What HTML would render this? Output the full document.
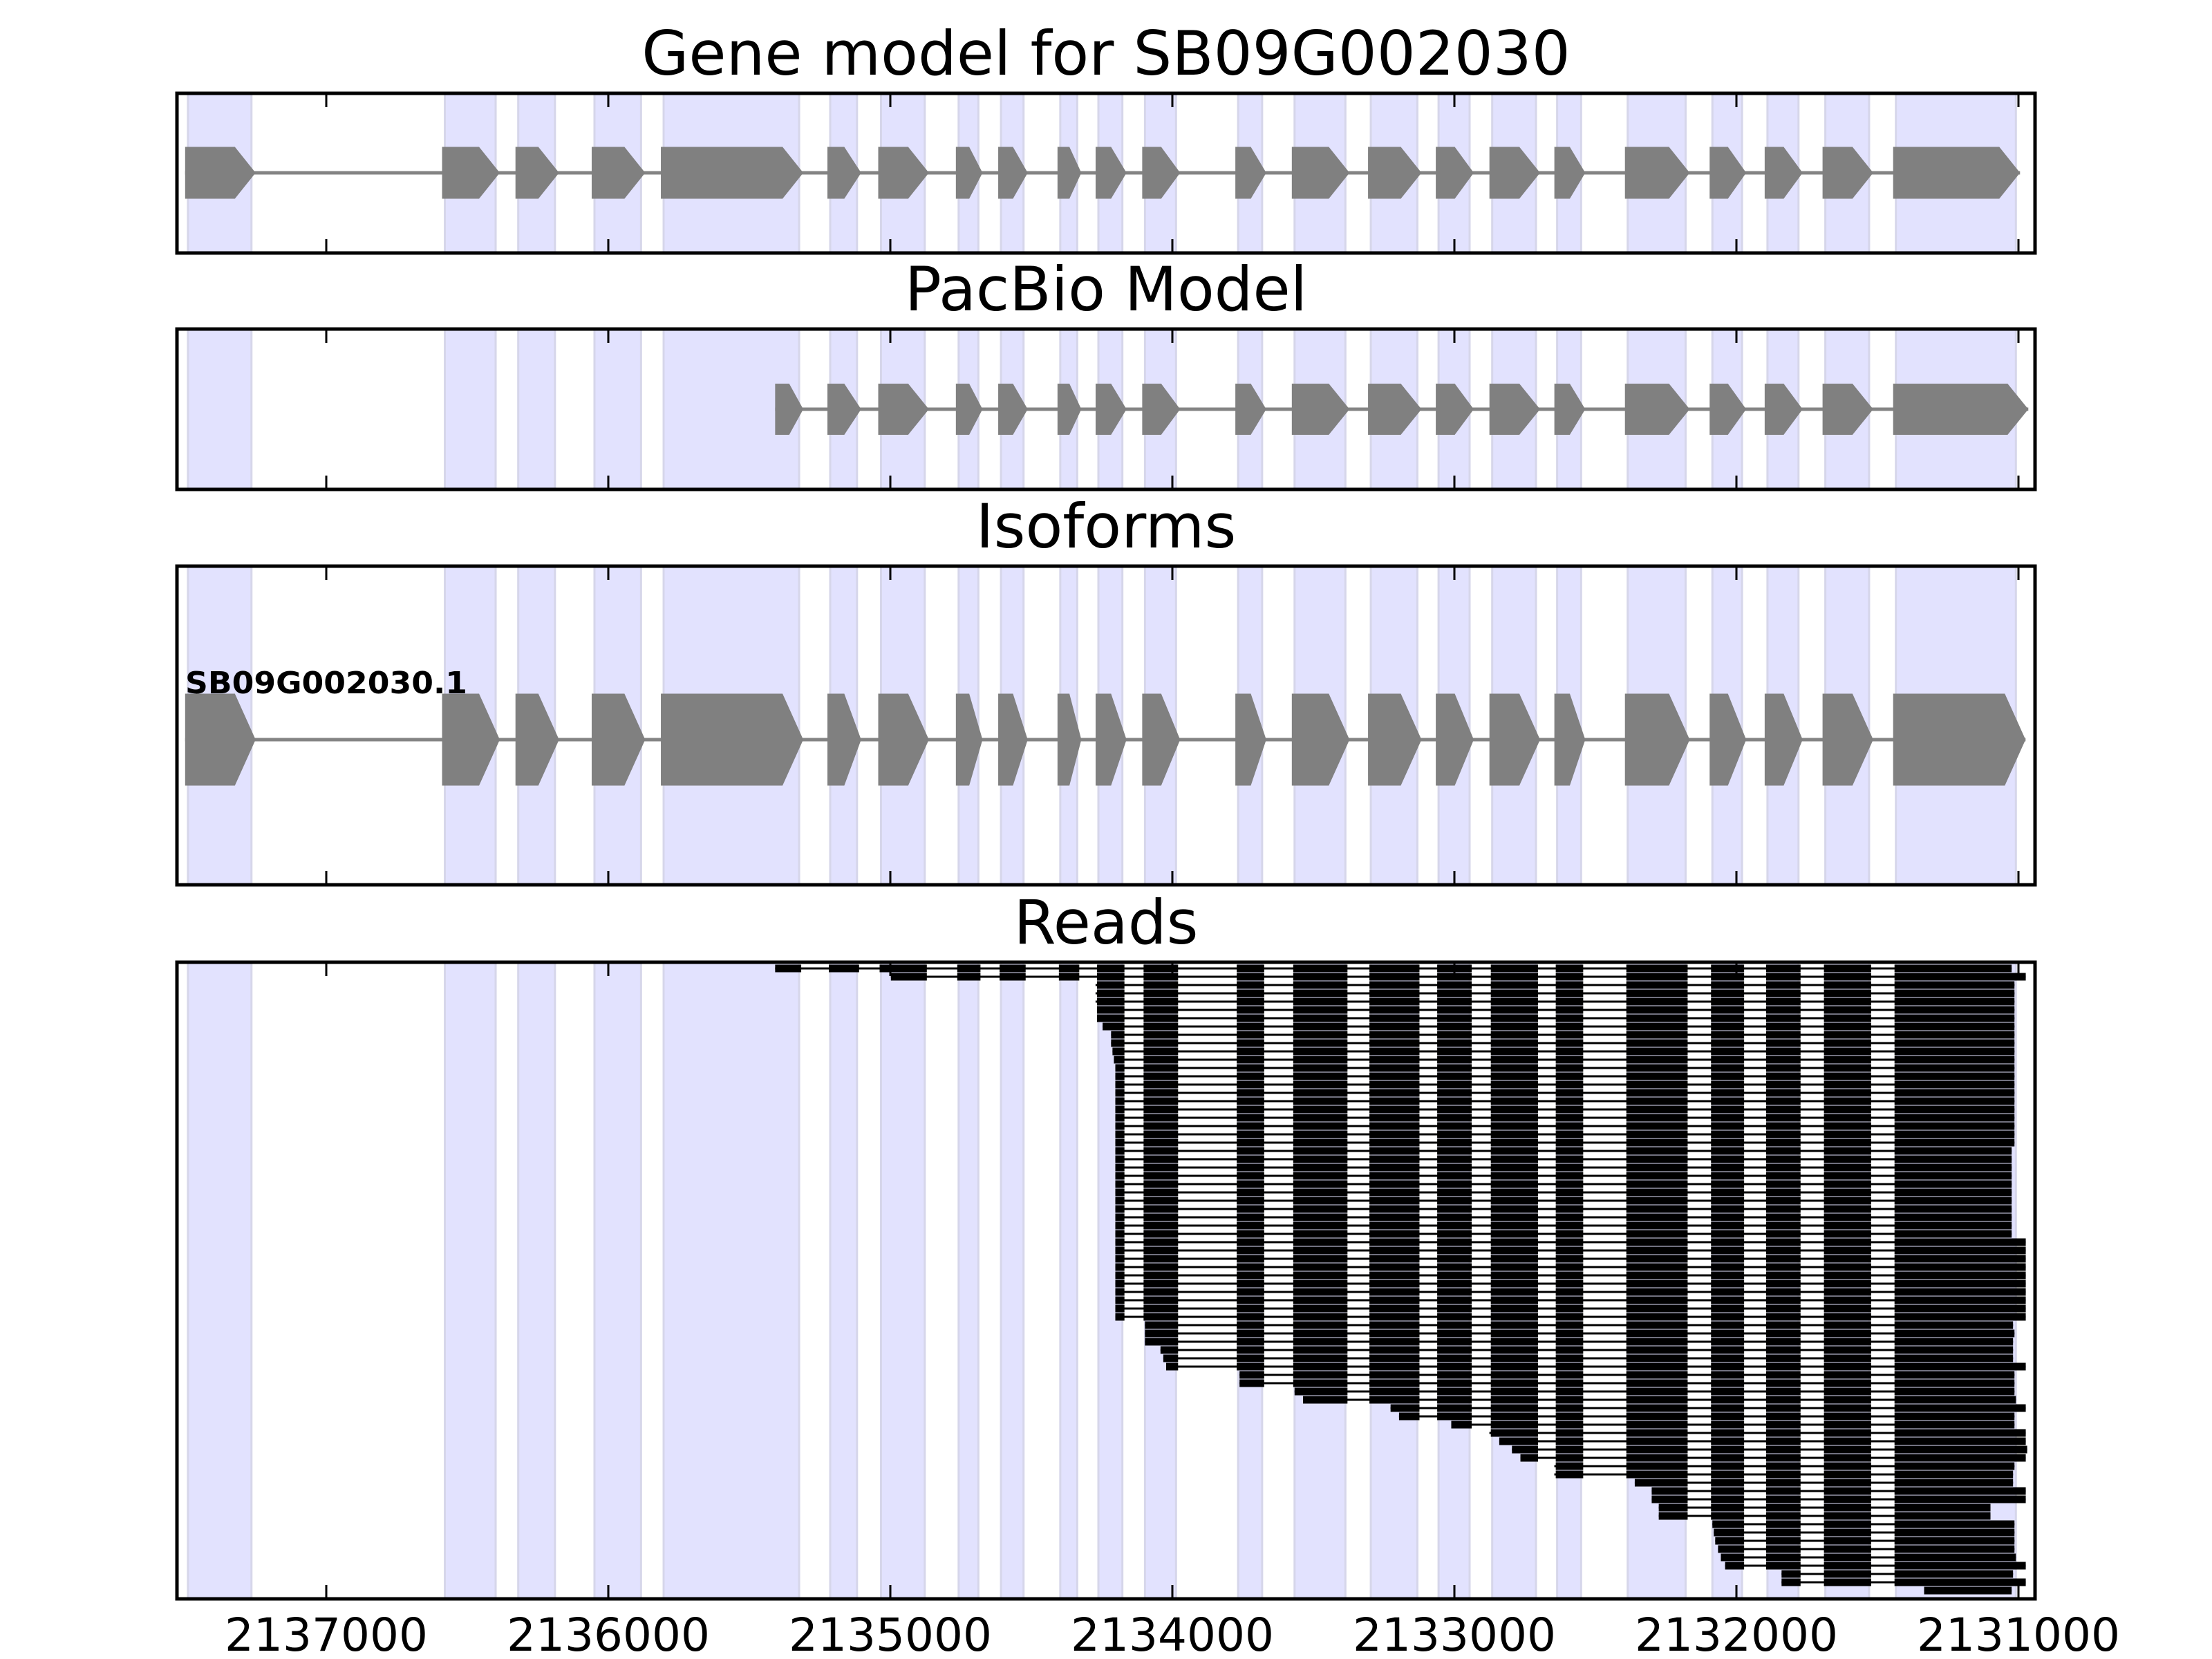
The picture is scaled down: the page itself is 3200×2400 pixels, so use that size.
<!DOCTYPE html>
<html><head><meta charset="utf-8"><style>
html,body{margin:0;padding:0;background:#fff;}
svg{display:block;}
</style></head><body>
<svg id="s" xmlns="http://www.w3.org/2000/svg" width="3200" height="2400" viewBox="0 0 3200 2400" font-family="DejaVu Sans, Liberation Sans, sans-serif"></svg>
<script>
var NS="http://www.w3.org/2000/svg";
var s=document.getElementById("s");
function X(d){return 472+(d-231)*2.042;}
var out=[];
var shades=[[133,178],[315,351],[367,393],[421,454],[470,566],[588,607],[624,655],[679,693],[709,725],[751,763],[778,795],[811,833],[877,894],[917,953],[971,1004],[1019,1041],[1057,1088],[1103,1120],[1153,1194],[1213,1234],[1252,1274],[1293,1324],[1343,1428]];
var L=256,R=2944;
var panels=[[135,366],[476,708],[819,1280],[1392,2313]];
var titles=["Gene model for SB09G002030","PacBio Model","Isoforms","Reads"];
var ticks=[2137000,2136000,2135000,2134000,2133000,2132000,2131000];
function tx(p){return 472+(2137000-p)*0.408;}
panels.forEach(function(p,i){
  var t=p[0],b=p[1];
  shades.forEach(function(sh){
    var a=X(sh[0]),c=X(sh[1]);
    out.push('<rect x="'+a+'" y="'+t+'" width="'+(c-a)+'" height="'+(b-t)+'" fill="#e2e2fe" stroke="#d6d6ea" stroke-width="3"/>');
  });
  out.push('<text x="1600" y="'+(t-27)+'" font-size="88" text-anchor="middle">'+titles[i]+'</text>');
});
function gene(cy,h,startIdx,firstStart,lastTipExtra){
  var xs=[];
  for(var k=startIdx;k<shades.length;k++){
    var a=X(shades[k][0])-4,c=X(shades[k][1])+6;
    if(k==startIdx&&firstStart!=null)a=X(firstStart);
    if(k==shades.length-1)c+=lastTipExtra;
    xs.push([a,c]);
  }
  out.push('<line x1="'+xs[0][0]+'" y1="'+cy+'" x2="'+xs[xs.length-1][1]+'" y2="'+cy+'" stroke="#848484" stroke-width="5"/>');
  xs.forEach(function(e){
    var a=e[0],c=e[1],tip=Math.min(30,(c-a)*0.5);
    var pts=[[a,cy-h/2],[c-tip,cy-h/2],[c,cy],[c-tip,cy+h/2],[a,cy+h/2]];
    out.push('<polygon points="'+pts.map(function(q){return q.join(",")}).join(" ")+'" fill="#808080"/>');
  });
}
gene(250,75,0,131,0);
gene(592,74,4,549,12);
gene(1070,133,0,131,8);
out.push('<text x="268" y="1003" font-size="44" font-weight="bold" textLength="408" lengthAdjust="spacingAndGlyphs">SB09G002030.1</text>');
var rows=[[549,1425],[631,1435]];
var gA=[776,776,776,777,777,781,787,787,788,789];
for(var i=0;i<41;i++){
  var st=i<gA.length?gA[i]:790;
  var en=i<20?1427:(i<31?1425:1435);
  rows.push([st,en]);
}
rows=rows.concat([[811,1426],[811,1427],[811,1426],[822,1426],[824,1426],[826,1435],[878,1427],[878,1427],[917,1427],[923,1428],[985,1435],[991,1427],[1028,1427],[1055,1435],[1062,1435],[1071,1436],[1077,1435],[1101,1427],[1101,1426],[1158,1426],[1170,1435],[1170,1435],[1175,1410],[1175,1410],[1213,1427],[1214,1427],[1215,1427],[1217,1427],[1219,1428],[1222,1435],[1262,1426],[1262,1435],[1363,1425]]);
rows.forEach(function(r,i){
  var y=1401+i*12;
  var a=X(r[0]),c=X(r[1]);
  out.push('<line x1="'+a+'" y1="'+y+'" x2="'+c+'" y2="'+y+'" stroke="#000" stroke-width="3"/>');
  shades.forEach(function(sh){
    var ea=X(sh[0])-2,ec=X(sh[1])+3;
    var x0=Math.max(ea,a),x1=Math.min(ec,c);
    if(sh===shades[shades.length-1])x1=c;
    if(x1>x0)out.push('<rect x="'+x0+'" y="'+(y-5.5)+'" width="'+(x1-x0)+'" height="11" fill="#000"/>');
  });
});
panels.forEach(function(p){
  var t=p[0],b=p[1];
  ticks.forEach(function(v){
    var x=tx(v);
    out.push('<line x1="'+x+'" y1="'+t+'" x2="'+x+'" y2="'+(t+20)+'" stroke="#000" stroke-width="3"/>');
    out.push('<line x1="'+x+'" y1="'+b+'" x2="'+x+'" y2="'+(b-20)+'" stroke="#000" stroke-width="3"/>');
  });
  out.push('<rect x="'+L+'" y="'+t+'" width="'+(R-L)+'" height="'+(b-t)+'" fill="none" stroke="#000" stroke-width="5"/>');
});
ticks.forEach(function(v){
  out.push('<text x="'+tx(v)+'" y="2388" font-size="66" text-anchor="middle">'+v+'</text>');
});
s.innerHTML=out.join("");
</script>
</body></html>
